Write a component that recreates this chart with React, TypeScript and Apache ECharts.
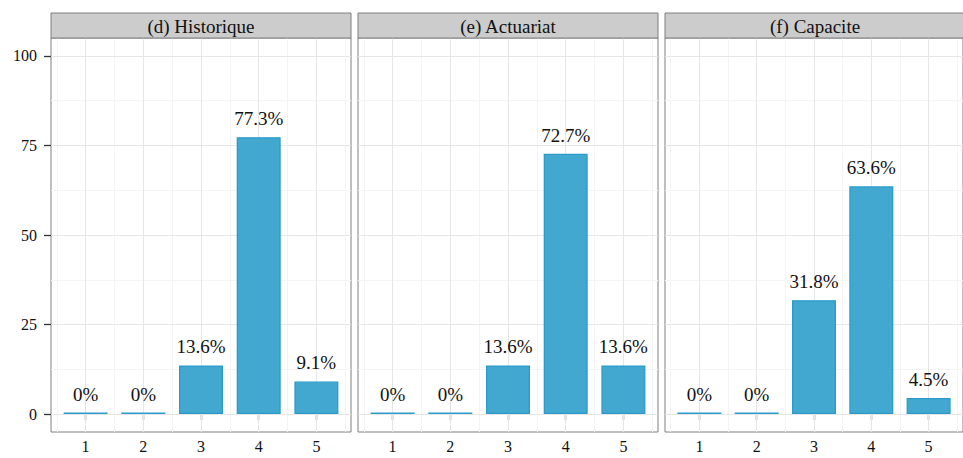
import React, { useEffect, useRef } from "react";
import * as echarts from "echarts";

const panels = ["(d) Historique", "(e) Actuariat", "(f) Capacite"];
const categories = [1, 2, 3, 4, 5];
const historique = [0, 0, 13.6, 77.3, 9.1];
const actuariat = [0, 0, 13.6, 72.7, 13.6];
const capacite = [0, 0, 31.8, 63.6, 4.5];
const seriesValues = [historique, actuariat, capacite];
const yTicks = [0, 25, 50, 75, 100];
const yMinor = [12.5, 37.5, 62.5, 87.5];
const xMinor = [0.5, 1.5, 2.5, 3.5, 4.5, 5.5];

const FONT = "Liberation Serif";
const panelLefts = [51, 358, 665];
const panelWidth = 300;
const plotTop = 38;
const plotHeight = 394;
const stripTop = 13;
const TEXT = "#111111";

export default function App() {
  const ref = useRef<HTMLDivElement>(null);
  useEffect(() => {
    if (!ref.current) return;
    const chart = echarts.init(ref.current, undefined, { renderer: "svg" });
    const grid = panels.map((_, i) => ({
      left: panelLefts[i],
      top: plotTop,
      width: panelWidth,
      height: plotHeight,
      show: true,
      backgroundColor: "#ffffff",
      borderColor: "#7f7f7f",
      borderWidth: 1,
      containLabel: false,
    }));
    const xAxis = panels.map((_, i) => ({
      gridIndex: i,
      type: "value",
      min: 0.4,
      max: 5.6,
      splitLine: { show: false },
      axisLine: { show: false },
      axisTick: {
        show: true,
        customValues: categories,
        length: 6,
        lineStyle: { color: "#333333", width: 1.3 },
      },
      axisLabel: {
        show: true,
        customValues: categories,
        fontFamily: FONT,
        fontSize: 16,
        color: TEXT,
        margin: 6,
      },
    }));
    const yAxis = panels.map((_, i) => ({
      gridIndex: i,
      type: "value",
      min: -5,
      max: 105,
      splitLine: { show: false },
      axisLine: { show: false },
      axisTick: {
        show: i === 0,
        customValues: yTicks,
        length: 7,
        lineStyle: { color: "#333333", width: 1.3 },
      },
      axisLabel: {
        show: i === 0,
        customValues: yTicks,
        fontFamily: FONT,
        fontSize: 16,
        color: TEXT,
        margin: 14,
      },
    }));
    const series: any[] = [];
    panels.forEach((_, i) => {
      series.push({
        type: "line",
        xAxisIndex: i,
        yAxisIndex: i,
        data: [],
        silent: true,
        z: 1,
        markLine: {
          silent: true,
          z: 1,
          symbol: ["none", "none"],
          label: { show: false },
          emphasis: { disabled: true },
          data: [
            ...yMinor.map((v) => ({ yAxis: v, lineStyle: { color: "#f4f4f4", width: 1, type: "solid" } })),
            ...xMinor.map((v) => ({ xAxis: v, lineStyle: { color: "#f4f4f4", width: 1, type: "solid" } })),
            ...yTicks.map((v) => ({ yAxis: v, lineStyle: { color: "#e6e6e6", width: 1, type: "solid" } })),
            ...categories.map((v) => ({ xAxis: v, lineStyle: { color: "#e6e6e6", width: 1, type: "solid" } })),
          ],
        },
      });
      series.push({
        type: "bar",
        xAxisIndex: i,
        yAxisIndex: i,
        z: 3,
        barWidth: 44,
        barMinHeight: 1.5,
        data: categories.map((c, j) => [c, seriesValues[i][j]]),
        itemStyle: { color: "#42A8D0", borderColor: "#2B9BCA", borderWidth: 1.3 },
        label: {
          show: true,
          position: "top",
          distance: 9,
          formatter: (p: any) => `${p.value[1]}%`,
          fontFamily: FONT,
          fontSize: 19,
          color: TEXT,
        },
      });
    });
    const graphic: any[] = [];
    panels.forEach((name, i) => {
      graphic.push({
        type: "rect",
        shape: { x: panelLefts[i], y: stripTop, width: panelWidth, height: plotTop - stripTop },
        style: { fill: "#cccccc", stroke: "#7f7f7f", lineWidth: 1 },
        z: 10,
      });
      graphic.push({
        type: "text",
        x: panelLefts[i] + panelWidth / 2,
        y: (stripTop + plotTop) / 2 + 1,
        style: {
          text: name,
          fontFamily: FONT,
          fontSize: 19,
          fill: TEXT,
          align: "center",
          verticalAlign: "middle",
        },
        z: 11,
      });
    });
    chart.setOption({
      animation: false,
      backgroundColor: "#ffffff",
      grid,
      xAxis,
      yAxis,
      series,
      graphic,
    });
    return () => chart.dispose();
  }, []);
  return (
    <div
      ref={ref}
      style={{ position: "absolute", left: 0, top: 0, width: 963, height: 458 }}
    />
  );
}
